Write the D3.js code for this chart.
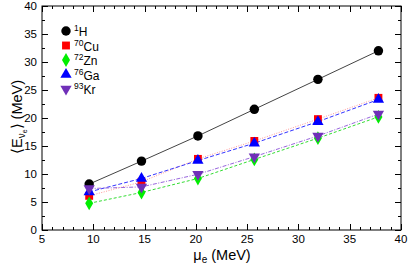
<!DOCTYPE html>
<html><head><meta charset="utf-8">
<script src="https://cdn.jsdelivr.net/npm/d3@7"></script>
<style>body{margin:0;background:#fff}svg{display:block}text{font-family:"Liberation Sans",Arial,sans-serif}</style>
</head><body><svg id="c" width="409" height="266"></svg>
<script>
const muE = [9.6, 14.7, 20.2, 25.7, 31.9, 37.8];
const H  = [8.2, 12.3, 16.8, 21.55, 26.9, 32.0];
const Cu = [6.1, 8.6, 12.7, 15.9, 19.8, 23.6];
const Zn = [4.76, 6.7, 9.2, 12.6, 16.4, 20.2];
const Ga = [6.8, 9.2, 12.4, 15.5, 19.35, 23.3];
const Kr = [7.4, 7.7, 9.95, 13.1, 16.8, 20.7];
const seriesNames = ["1H","70Cu","72Zn","76Ga","93Kr"];
const xTicks = [5,10,15,20,25,30,35,40];
const yTicks = [0,5,10,15,20,25,30,35,40];

const series = [
  {mass:"1", el:"H", vals:H, color:"#000000", line:"#444", dash:null, sym:d3.symbolCircle, size:70},
  {mass:"70", el:"Cu", vals:Cu, color:"#ff0000", line:"#ff9999", dash:"1,1.5", sym:d3.symbolSquare, size:62},
  {mass:"72", el:"Zn", vals:Zn, color:"#00ee00", line:"#33dd33", dash:"3,2", sym:d3.symbolDiamond, size:55},
  {mass:"76", el:"Ga", vals:Ga, color:"#0000ff", line:"#3333ff", dash:"4,2", sym:d3.symbolTriangle, size:55},
  {mass:"93", el:"Kr", vals:Kr, color:"#7030b8", line:"#9966dd", dash:"4,1.5,1,1.5", sym:d3.symbolTriangle, size:55, rot:180}
];

const W=409,H0=266, m={l:42,r:8,t:6,b:36};
const svg=d3.select("#c");
const x=d3.scaleLinear().domain([5,40]).range([m.l,W-m.r]);
const y=d3.scaleLinear().domain([0,40]).range([H0-m.b,m.t]);

svg.append("rect").attr("x",x(5)).attr("y",y(40)).attr("width",x(40)-x(5)).attr("height",y(0)-y(40))
  .attr("fill","none").attr("stroke","#000").attr("stroke-width",1);

const g=svg.append("g");
d3.range(5,40.01,1).forEach(v=>{
  const maj = Math.abs(v%5)<1e-6, L = maj?6:3, px=Math.round(x(v))+0.5;
  g.append("line").attr("x1",px).attr("x2",px).attr("y1",y(0)).attr("y2",y(0)-L).attr("stroke","#000");
  g.append("line").attr("x1",px).attr("x2",px).attr("y1",y(40)).attr("y2",y(40)+L).attr("stroke","#000");
});
d3.range(0,40.01,2.5).forEach(v=>{
  const maj = Math.abs(v%5)<1e-6, L = maj?6:3, py=Math.round(y(v))+0.5;
  g.append("line").attr("y1",py).attr("y2",py).attr("x1",x(5)).attr("x2",x(5)+L).attr("stroke","#000");
  g.append("line").attr("y1",py).attr("y2",py).attr("x1",x(40)).attr("x2",x(40)-L).attr("stroke","#000");
});
xTicks.forEach(v=>{
  g.append("text").attr("x",x(v)).attr("y",243).attr("text-anchor","middle").attr("font-size",11.5).text(v);
});
yTicks.forEach(v=>{
  g.append("text").attr("x",37).attr("y",y(v)+4).attr("text-anchor","end").attr("font-size",11.5).text(v);
});

const xl=svg.append("text").attr("x",222).attr("y",260).attr("text-anchor","middle").attr("font-size",14.5);
xl.append("tspan").text("μ");
xl.append("tspan").attr("font-size",10).attr("dy",3).text("e");
xl.append("tspan").attr("dy",-3).text(" (MeV)");

const yl=svg.append("text").attr("transform","translate(22,117) rotate(-90)").attr("text-anchor","middle").attr("font-size",14.5);
yl.append("tspan").text("⟨E");
yl.append("tspan").attr("font-size",10).attr("dy",3).text("ν");
yl.append("tspan").attr("font-size",7).attr("dy",2).text("e");
yl.append("tspan").attr("dy",-5).text("⟩ (MeV)");

series.forEach(s=>{
  const line=d3.line().x((d,i)=>x(muE[i])).y(d=>y(d));
  svg.append("path").attr("d",line(s.vals)).attr("fill","none").attr("stroke",s.line)
    .attr("stroke-width",1).attr("stroke-dasharray",s.dash);
});
series.forEach(s=>{
  svg.selectAll(null).data(s.vals).enter().append("path")
    .attr("d",d3.symbol().type(s.sym).size(s.size))
    .attr("transform",(d,i)=>`translate(${x(muE[i])},${y(d)})${s.rot?" rotate(180)":""}`)
    .attr("fill",s.color);
});

const ly=[31,45.5,60,74.5,89];
series.forEach((s,i)=>{
  svg.append("path").attr("d",d3.symbol().type(s.sym).size(s.size))
    .attr("transform",`translate(66,${ly[i]})${s.rot?" rotate(180)":""}`).attr("fill",s.color);
  const t=svg.append("text").attr("x",74).attr("y",ly[i]+5).attr("font-size",12);
  t.append("tspan").attr("font-size",8.5).attr("dy",-5).text(s.mass);
  t.append("tspan").attr("dy",5).text(s.el);
});
</script></body></html>
